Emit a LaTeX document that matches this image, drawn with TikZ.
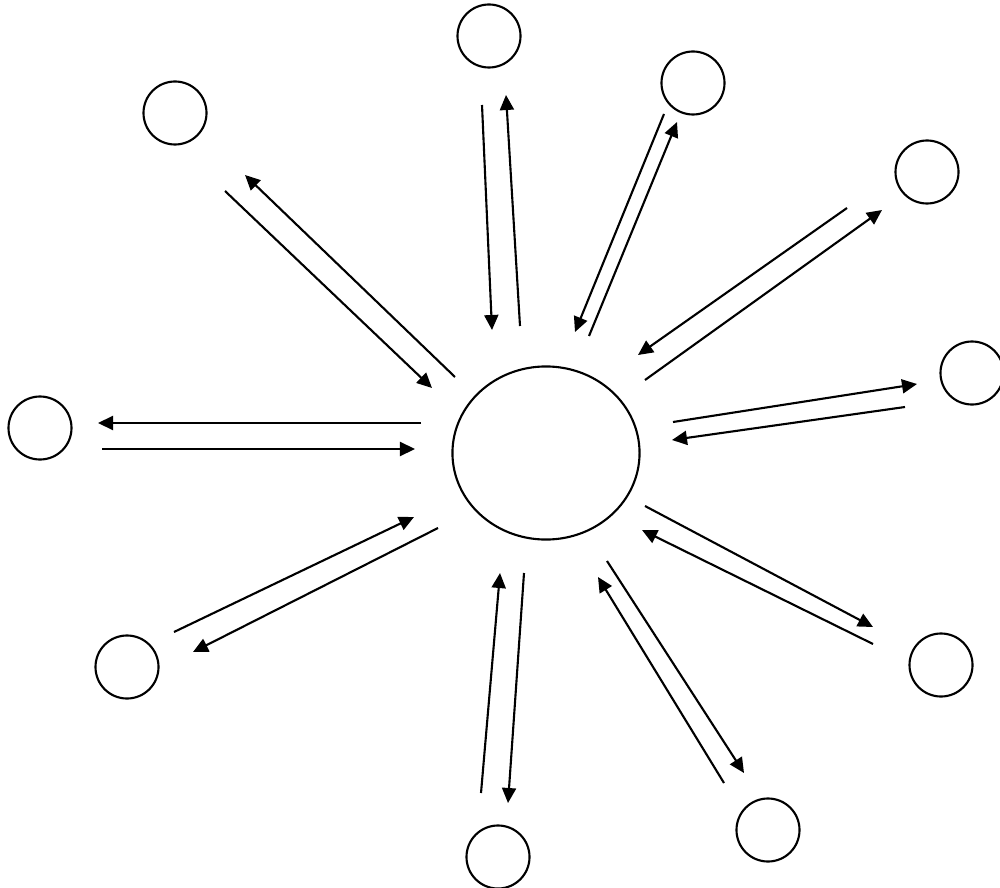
\documentclass[tikz,border=0pt]{standalone}
\usetikzlibrary{arrows.meta,shapes.geometric}

\tikzset{
    leaf/.style={draw, circle, minimum size=6.3mm, inner sep=0pt, line width=0.6pt},
    hub/.style={draw, ellipse, minimum width=18.7mm, minimum height=17.3mm, inner sep=0pt, line width=0.6pt},
    flow/.style={-{Triangle[length=1.5mm,width=1.4mm]}, line width=0.6pt},
}

\begin{document}
\begin{tikzpicture}[x=0.01cm, y=-0.01cm]
        \useasboundingbox (0,0) rectangle (1000,888);

        % Central node
        \node[hub] (hub) at (546,453) {};

        % Outer nodes
        \foreach \i/\x/\y in {1/489/36, 2/693/83, 3/927/172, 4/972/373, 5/941/665,
                              6/768/830, 7/498/857, 8/127/667, 9/40/428, 10/175/113} {
                \node[leaf] (n\i) at (\x,\y) {};
            }

        % End points of the arrows: in = towards the hub, out = towards the outer node
        \foreach \i/\ax/\ay/\bx/\by/\cx/\cy/\dx/\dy in {
                1/482/105/492/330/520/326/506/95,
                2/664/114/575/332/589/336/677/122,
                3/847/208/638/355/645/380/882/210,
                4/905/407/672/440/673/422/917/384,
                5/873/644/642/530/645/506/873/627,
                6/724/783/598/577/607/561/744/773,
                7/481/793/500/573/524/573/508/803,
                8/174/632/414/517/438/528/193/652,
                9/102/449/415/449/421/423/98/423,
                10/225/191/432/388/455/377/245/175} {
                \coordinate (in\i-a) at (\ax,\ay);
                \coordinate (in\i-b) at (\bx,\by);
                \coordinate (out\i-a) at (\cx,\cy);
                \coordinate (out\i-b) at (\dx,\dy);
            }

        % Draw the arrow pairs
        \foreach \i in {1,...,10} {
                \draw[flow] (in\i-a) -- (in\i-b);
                \draw[flow] (out\i-a) -- (out\i-b);
            }
    \end{tikzpicture}
\end{document}
